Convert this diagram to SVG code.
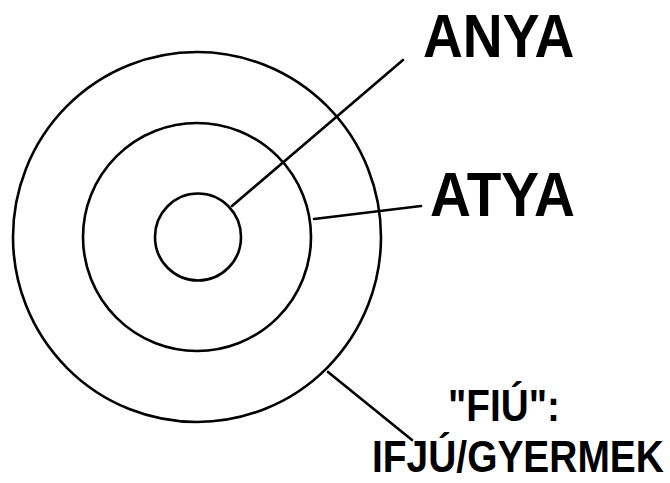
<svg xmlns="http://www.w3.org/2000/svg" width="670" height="483" viewBox="0 0 670 483">
<style>
.ring{fill:none;stroke:#000;stroke-width:2.6}
.conn{stroke:#000;stroke-width:2.6;stroke-linecap:round}
.lbl{font-family:"Liberation Sans",Arial,sans-serif;font-weight:bold;fill:#000}
</style>
<rect width="670" height="483" fill="#fff"/>
<g id="outer"><ellipse class="ring" cx="197" cy="237" rx="184" ry="185"/></g>
<g id="middle"><ellipse class="ring" cx="197" cy="237" rx="114" ry="114"/></g>
<g id="inner"><ellipse class="ring" cx="198" cy="237" rx="43" ry="43.5"/></g>
<g id="connectors">
<line class="conn" x1="232" y1="206" x2="403" y2="60"/>
<line class="conn" x1="314" y1="219" x2="421" y2="206"/>
<line class="conn" x1="328" y1="372" x2="412" y2="440"/>
</g>
<g id="anya"><text class="lbl" transform="translate(423,57) scale(0.89,1)" font-size="62">ANYA</text></g>
<g id="atya"><text class="lbl" transform="translate(430,216) scale(0.9,1)" font-size="63">ATYA</text></g>
<g id="fiu">
<text class="lbl" transform="translate(448,421) scale(0.86,1)" font-size="45">"FIÚ":</text>
<text class="lbl" transform="translate(372,472) scale(0.865,1)" font-size="45">IFJÚ/GYERMEK</text>
</g>
</svg>
